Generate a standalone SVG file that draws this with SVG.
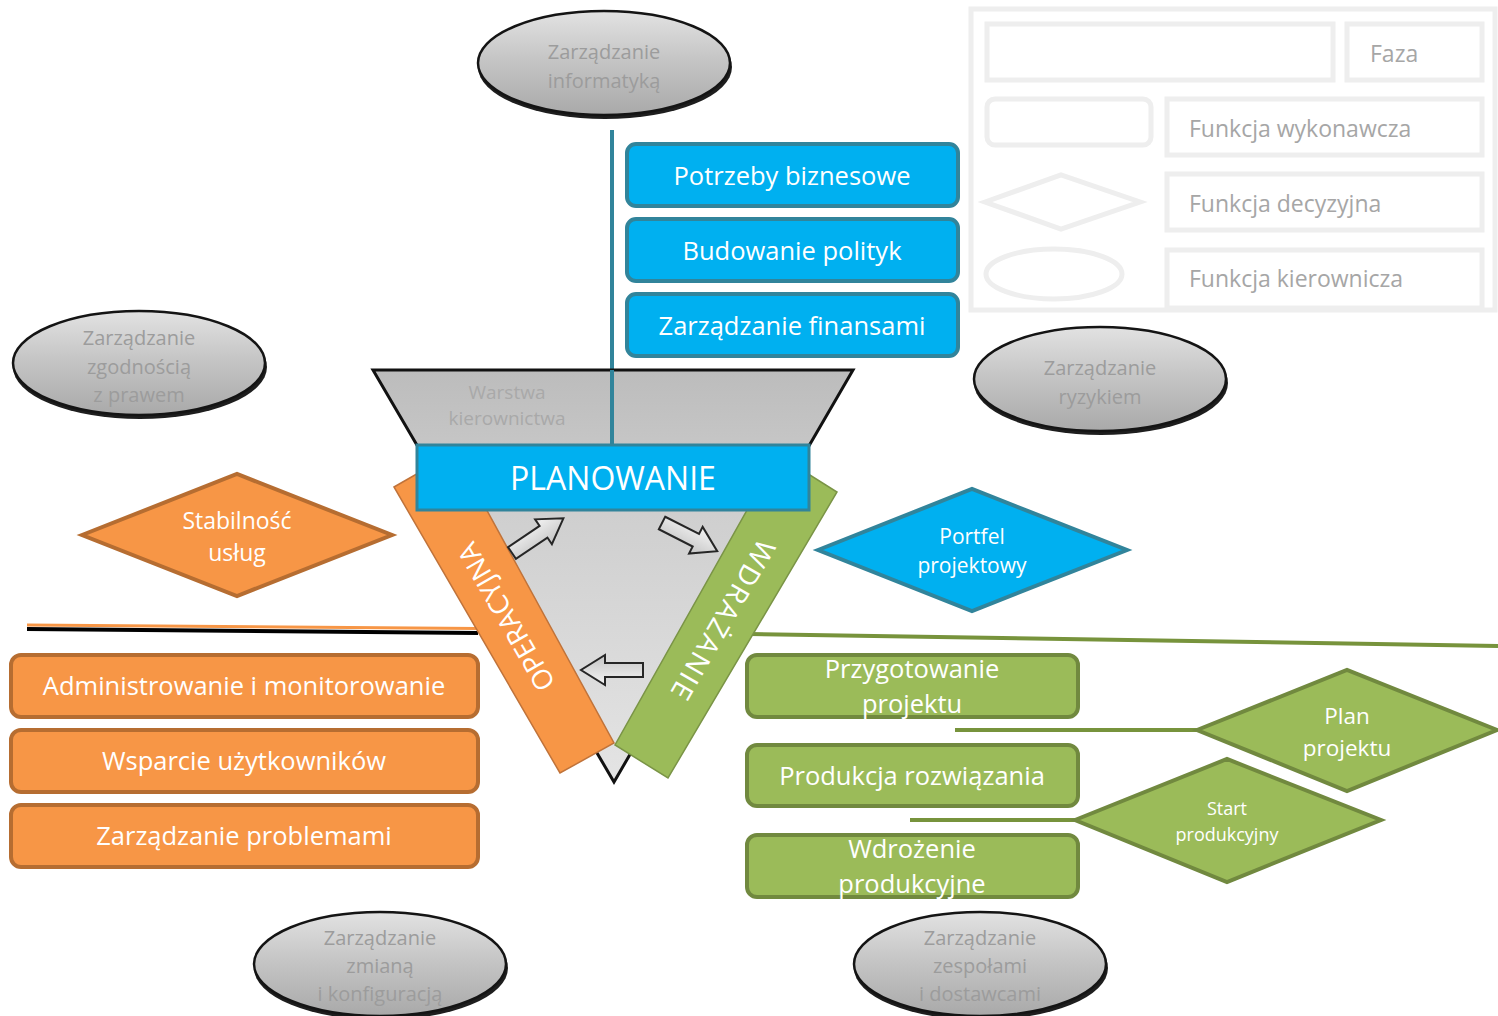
<svg xmlns="http://www.w3.org/2000/svg" width="1498" height="1016" viewBox="0 0 1498 1016">
<defs>
<linearGradient id="gEll" x1="0" y1="0" x2="0" y2="1">
<stop offset="0" stop-color="#e2e2e2"/><stop offset="0.45" stop-color="#c6c6c6"/><stop offset="1" stop-color="#a9a9a9"/>
</linearGradient>
<linearGradient id="gTri" gradientUnits="userSpaceOnUse" x1="0" y1="370" x2="0" y2="782">
<stop offset="0" stop-color="#bcbcbc"/><stop offset="0.35" stop-color="#cfcfcf"/><stop offset="1" stop-color="#e4e4e4"/>
</linearGradient>
<linearGradient id="gArr" x1="0" y1="0" x2="0" y2="1">
<stop offset="0" stop-color="#f4f4f4"/><stop offset="1" stop-color="#c4c4c4"/>
</linearGradient>
<path id="blk" d="M0,-7 L38,-7 L38,-15 L62,0 L38,15 L38,7 L0,7 Z"/>
</defs>
<style>
text{font-family:"Open Sans","Liberation Sans",sans-serif;text-anchor:middle}
.ell{fill:url(#gEll);stroke:#141414;stroke-width:2.5}
.sh{fill:#1e1e1e}
.et{fill:#9c9c9c;font-size:20px}
.lg{fill:none;stroke:#eeeeee;stroke-width:5}
.lt{fill:#a6a6a6;font-size:23px;text-anchor:start}
.blue{fill:#00b0f0;stroke:#31849b;stroke-width:4}
.org{fill:#f79646;stroke:#b66d31;stroke-width:4}
.grn{fill:#9bbb59;stroke:#71893f;stroke-width:4}
.wt{fill:#ffffff}
.arr{fill:url(#gArr);stroke:#262626;stroke-width:2}
</style>
<rect width="1498" height="1016" fill="#ffffff"/>

<g id="legend">
<rect class="lg" x="971" y="9" width="524" height="301"/>
<rect class="lg" x="987" y="24" width="346" height="56"/>
<rect class="lg" x="1347" y="24" width="135" height="56"/>
<text class="lt" x="1370" y="62">Faza</text>
<rect class="lg" x="987" y="99" width="164" height="46" rx="8"/>
<rect class="lg" x="1167" y="99" width="315" height="56"/>
<text class="lt" x="1189" y="137">Funkcja wykonawcza</text>
<polygon class="lg" points="985,202 1061,175 1140,202 1061,229"/>
<rect class="lg" x="1167" y="174" width="315" height="56"/>
<text class="lt" x="1189" y="212">Funkcja decyzyjna</text>
<ellipse class="lg" cx="1054" cy="274" rx="68" ry="25"/>
<rect class="lg" x="1167" y="250" width="315" height="58"/>
<text class="lt" x="1189" y="287">Funkcja kierownicza</text>
</g>

<g id="connectors">
<line x1="612" y1="130" x2="612" y2="447" stroke="#31849b" stroke-width="4"/>
<line x1="27" y1="625" x2="478" y2="628.5" stroke="#f79646" stroke-width="3"/>
<line x1="27" y1="629" x2="478" y2="633" stroke="#000000" stroke-width="4"/>
<line x1="750" y1="634" x2="1498" y2="646" stroke="#77933c" stroke-width="4"/>
<line x1="955" y1="730" x2="1197" y2="730" stroke="#77933c" stroke-width="4"/>
<line x1="910" y1="820" x2="1075" y2="820" stroke="#77933c" stroke-width="4"/>
</g>

<g id="triangle">
<polygon points="373,370 853,370 614,782" fill="url(#gTri)" stroke="#111111" stroke-width="3" stroke-linejoin="miter"/>
<text x="507" y="399" style="fill:#a9a9a9;font-size:19px">Warstwa</text>
<text x="507" y="425" style="fill:#a9a9a9;font-size:19px">kierownictwa</text>
</g>
<line x1="612" y1="370" x2="612" y2="447" stroke="#31849b" stroke-width="4"/>

<g id="operacyjna">
<polygon points="394,487 455,452 614,743 560,773" fill="#f79646" stroke="#c0733a" stroke-width="1.5"/>
<text class="wt" transform="translate(506,617) rotate(-120)" y="10" style="font-size:27.5px">OPERACYJNA</text>
</g>
<g id="wdrazanie">
<polygon points="778,455 837,492 668,778 615,745" fill="#9bbb59" stroke="#7a9446" stroke-width="1.5"/>
<text class="wt" transform="translate(723,620) rotate(120)" x="1" y="10" style="font-size:28px;letter-spacing:2.5px">WDRAŻANIE</text>
</g>
<g id="planowanie">
<rect x="417" y="445" width="392" height="65" fill="#00b0f0" stroke="#31849b" stroke-width="3"/>
<text class="wt" x="613" y="490" style="font-size:32px">PLANOWANIE</text>
</g>

<g id="cycle-arrows">
<use href="#blk" class="arr" transform="translate(512,553) rotate(-34)"/>
<use href="#blk" class="arr" transform="translate(662,523) rotate(27)"/>
<use href="#blk" class="arr" transform="translate(643,670) rotate(180)"/>
</g>

<g id="potrzeby"><rect class="blue" x="627" y="144" width="331" height="62" rx="9"/><text class="wt" x="792" y="185" style="font-size:25.5px">Potrzeby biznesowe</text></g>
<g id="budowanie"><rect class="blue" x="627" y="219" width="331" height="62" rx="9"/><text class="wt" x="792" y="260" style="font-size:25.5px">Budowanie polityk</text></g>
<g id="finanse"><rect class="blue" x="627" y="294" width="331" height="62" rx="9"/><text class="wt" x="792" y="335" style="font-size:25.5px">Zarządzanie finansami</text></g>

<g id="stabilnosc"><polygon class="org" points="82,535 237,474 392,535 237,596"/><text class="wt" x="237" y="529" style="font-size:23px">Stabilność</text><text class="wt" x="237" y="561" style="font-size:23px">usług</text></g>
<g id="admin"><rect class="org" x="11" y="655" width="467" height="62" rx="10"/><text class="wt" x="244" y="695" style="font-size:25.5px">Administrowanie i monitorowanie</text></g>
<g id="wsparcie"><rect class="org" x="11" y="730" width="467" height="62" rx="10"/><text class="wt" x="244" y="770" style="font-size:25.5px">Wsparcie użytkowników</text></g>
<g id="problemy"><rect class="org" x="11" y="805" width="467" height="62" rx="10"/><text class="wt" x="244" y="845" style="font-size:25.5px">Zarządzanie problemami</text></g>

<g id="portfel"><polygon class="blue" points="818,550 972,489 1127,550 972,611"/><text class="wt" x="972" y="544" style="font-size:21px">Portfel</text><text class="wt" x="972" y="573" style="font-size:21px">projektowy</text></g>

<g id="przygotowanie"><rect class="grn" x="747" y="655" width="331" height="62" rx="10"/><text class="wt" x="912" y="678" style="font-size:25.5px">Przygotowanie</text><text class="wt" x="912" y="713" style="font-size:25.5px">projektu</text></g>
<g id="produkcja"><rect class="grn" x="747" y="745" width="331" height="61" rx="10"/><text class="wt" x="912" y="785" style="font-size:25.5px">Produkcja rozwiązania</text></g>
<g id="wdrozenie"><rect class="grn" x="747" y="835" width="331" height="62" rx="10"/><text class="wt" x="912" y="858" style="font-size:25.5px">Wdrożenie</text><text class="wt" x="912" y="893" style="font-size:25.5px">produkcyjne</text></g>
<g id="plan"><polygon class="grn" points="1197,730 1347,670 1497,730 1347,791"/><text class="wt" x="1347" y="724" style="font-size:22.5px">Plan</text><text class="wt" x="1347" y="756" style="font-size:22.5px">projektu</text></g>
<g id="start"><polygon class="grn" points="1075,820 1227,759 1381,820 1227,882"/><text class="wt" x="1227" y="815" style="font-size:18px">Start</text><text class="wt" x="1227" y="841" style="font-size:18px">produkcyjny</text></g>

<g id="informatyka"><ellipse class="sh" cx="605" cy="67" rx="127" ry="52"/><ellipse class="ell" cx="604" cy="63" rx="126" ry="52"/><text class="et" x="604" y="59">Zarządzanie</text><text class="et" x="604" y="88">informatyką</text></g>
<g id="zgodnosc"><ellipse class="sh" cx="140" cy="367" rx="127" ry="52"/><ellipse class="ell" cx="139" cy="363" rx="126" ry="52"/><text class="et" x="139" y="345">Zarządzanie</text><text class="et" x="139" y="374">zgodnością</text><text class="et" x="139" y="402">z prawem</text></g>
<g id="ryzyko"><ellipse class="sh" cx="1101" cy="383" rx="127" ry="52"/><ellipse class="ell" cx="1100" cy="379" rx="126" ry="52"/><text class="et" x="1100" y="375">Zarządzanie</text><text class="et" x="1100" y="404">ryzykiem</text></g>
<g id="zmiana"><ellipse class="sh" cx="381" cy="968" rx="127" ry="52"/><ellipse class="ell" cx="380" cy="964" rx="126" ry="52"/><text class="et" x="380" y="945">Zarządzanie</text><text class="et" x="380" y="973">zmianą</text><text class="et" x="380" y="1001">i konfiguracją</text></g>
<g id="zespoly"><ellipse class="sh" cx="981" cy="968" rx="127" ry="52"/><ellipse class="ell" cx="980" cy="964" rx="126" ry="52"/><text class="et" x="980" y="945">Zarządzanie</text><text class="et" x="980" y="973">zespołami</text><text class="et" x="980" y="1001">i dostawcami</text></g>
</svg>
